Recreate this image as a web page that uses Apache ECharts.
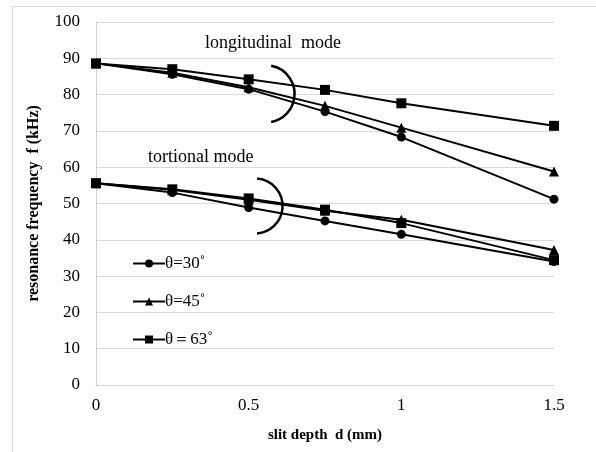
<!DOCTYPE html>
<html>
<head>
<meta charset="utf-8">
<script src="https://cdn.jsdelivr.net/npm/echarts@6/dist/echarts.min.js"></script>
<style>
html,body{margin:0;padding:0;background:#fff;}
#chart{width:596px;height:452px;}
</style>
</head>
<body>
<div id="chart"></div>
<script>
// slit depth d (mm)
const depths = [0, 0.25, 0.5, 0.75, 1, 1.5];
const seriesNames = ['θ=30˚', 'θ=45˚', 'θ＝63˚'];
// longitudinal mode (kHz)
const longTheta30 = [88.6, 85.6, 81.5, 75.3, 68.3, 51.2];
const longTheta45 = [88.6, 86.0, 82.0, 76.9, 70.9, 58.8];
const longTheta63 = [88.6, 87.0, 84.2, 81.3, 77.6, 71.4];
// tortional mode (kHz)
const torTheta30 = [55.6, 53.0, 48.9, 45.2, 41.5, 34.0];
const torTheta45 = [55.6, 53.8, 51.0, 48.0, 45.5, 37.2];
const torTheta63 = [55.6, 53.9, 51.4, 48.3, 44.6, 34.4];
// annotation arcs: [d, f]
const arcCenters = [[0.557, 80.2], [0.521, 49.3]];
const yTicks = [0, 10, 20, 30, 40, 50, 60, 70, 80, 90, 100];

const symbols = ['circle', 'triangle', 'rect'];
const symSizes = [9, 10, 10];
const serif = '"Liberation Serif", "Times New Roman", serif';

function mk(name, vals, idx) {
  return {
    name: name, type: 'line',
    data: depths.map((d, i) => [d, vals[i]]),
    symbol: symbols[idx], symbolSize: symSizes[idx],
    itemStyle: {color: '#000'},
    lineStyle: {color: '#000', width: 2},
    z: 3
  };
}

const chart = echarts.init(document.getElementById('chart'));
chart.setOption({
  backgroundColor: '#fff',
  animation: false,
  grid: {left: 96, right: 42, top: 22, bottom: 67},
  xAxis: {
    type: 'value', min: 0, max: 1.5, interval: 0.5,
    name: 'slit depth  d (mm)', nameLocation: 'middle', nameGap: 43,
    nameTextStyle: {fontFamily: serif, fontWeight: 'bold', fontSize: 15, color: '#000'},
    axisLine: {lineStyle: {color: '#d0d0d0', width: 1}},
    axisTick: {show: false},
    splitLine: {show: false},
    axisLabel: {fontFamily: serif, fontSize: 17, color: '#000', margin: 12}
  },
  yAxis: {
    type: 'value', min: yTicks[0], max: yTicks[yTicks.length - 1], interval: 10,
    name: 'resonance frequency  f (kHz)', nameLocation: 'middle', nameGap: 54,
    nameTextStyle: {fontFamily: serif, fontWeight: 'bold', fontSize: 16, color: '#000'},
    axisLine: {show: true, lineStyle: {color: '#d0d0d0', width: 1}},
    axisTick: {show: false},
    splitLine: {lineStyle: {color: '#d9d9d9', width: 1}},
    axisLabel: {fontFamily: serif, fontSize: 17, color: '#000', margin: 16}
  },
  legend: {
    data: seriesNames, orient: 'vertical', left: 127, top: 250,
    itemWidth: 32, itemHeight: 10, itemGap: 21,
    textStyle: {fontFamily: serif, fontSize: 17, color: '#000', padding: [0, 0, 0, -5]},
    selectedMode: false
  },
  graphic: [
    {type: 'rect', shape: {x: 12.5, y: 6.5, width: 620, height: 480}, style: {fill: 'none', stroke: '#d9d9d9', lineWidth: 1}, silent: true, z: -1},
    {type: 'text', left: 205, top: 34, style: {text: 'longitudinal  mode', font: '18px ' + serif, fill: '#000'}},
    {type: 'text', left: 148, top: 148, style: {text: 'tortional mode', font: '18px ' + serif, fill: '#000'}}
  ],
  series: [
    mk(seriesNames[0], longTheta30, 0),
    mk(seriesNames[1], longTheta45, 1),
    mk(seriesNames[2], longTheta63, 2),
    mk(seriesNames[0], torTheta30, 0),
    mk(seriesNames[1], torTheta45, 1),
    mk(seriesNames[2], torTheta63, 2),
    {
      type: 'custom', silent: true, z: 4,
      data: arcCenters,
      renderItem: function (params, api) {
        const p = api.coord([api.value(0), api.value(1)]);
        const top = params.dataIndex === 0;
        const a = top ? 1.39 : 1.50;
        return {
          type: 'arc',
          shape: {cx: p[0], cy: p[1], r: top ? 28.5 : 27.5, startAngle: -a, endAngle: a, clockwise: true},
          style: {stroke: '#000', lineWidth: 2.5, fill: 'none'}
        };
      }
    }
  ]
});
</script>
</body>
</html>
